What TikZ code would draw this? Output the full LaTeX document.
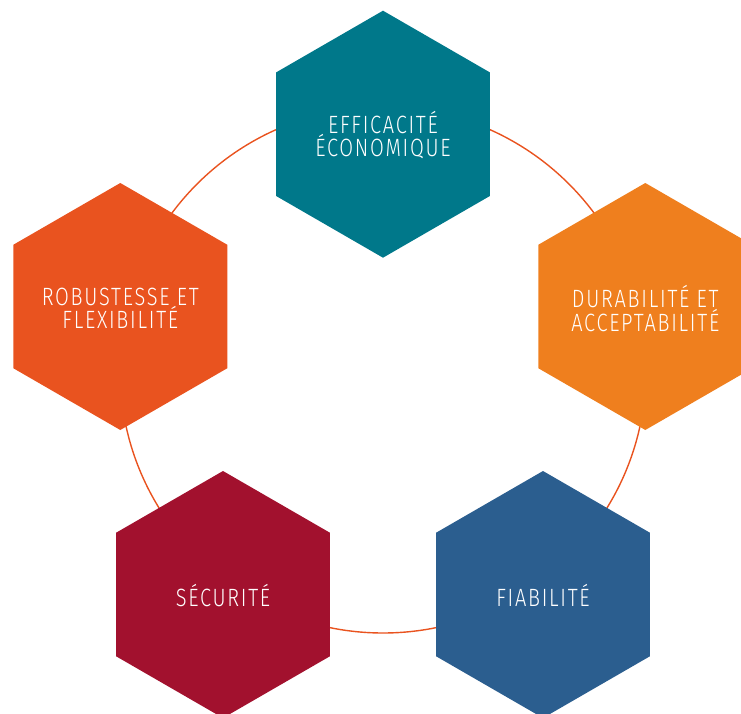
\documentclass[tikz,border=0pt]{standalone}
\usepackage{fontspec}
\setmainfont{Fira Sans}[UprightFont={* Light}, FakeStretch=0.8, LetterSpace=7]
\usetikzlibrary{shapes.geometric}
\definecolor{cteal}{HTML}{00788A}
\definecolor{corange}{HTML}{EF7F1E}
\definecolor{cred}{HTML}{E9531F}
\definecolor{ccrimson}{HTML}{A2112E}
\definecolor{cblue}{HTML}{2B5E8F}
\tikzset{
  hexa/.style={regular polygon, regular polygon sides=6, regular polygon rotate=30,
    minimum size=247pt, inner sep=0pt, outer sep=0pt, draw=none},
  lbl/.style={text=white, align=center, font=\fontsize{25}{21.5}\selectfont, inner sep=0pt},
  ring/.style={draw=cred, line width=1.4pt}
}
\begin{document}
\begin{tikzpicture}[x=1pt,y=-1pt]
\useasboundingbox (0,0) rectangle (741,714);
\clip (0,0) rectangle (741,714);
\coordinate (c) at (383,370);
\draw[ring] (c) circle[radius=263];
\node[hexa, fill=cteal]    (h1) at (383,134.2) {};
\node[hexa, fill=corange]  (h2) at (645.3,306.5) {};
\node[hexa, fill=cred]     (h3) at (120.3,306.5) {};
\node[hexa, fill=ccrimson] (h4) at (223,594.5) {};
\node[hexa, fill=cblue]    (h5) at (543,594.5) {};
\node[lbl] (t1) at ([yshift=-1]h1.center) {EFFICACITÉ\\ÉCONOMIQUE};
\node[lbl] (t2) at ([yshift=-2]h2.center) {DURABILITÉ ET\\ACCEPTABILITÉ};
\node[lbl] (t3) at ([yshift=-2]h3.center) {ROBUSTESSE ET\\FLEXIBILITÉ};
\node[lbl] (t4) at ([yshift=-1]h4.center) {SÉCURITÉ};
\node[lbl] (t5) at ([yshift=-1]h5.center) {FIABILITÉ};
\end{tikzpicture}
\end{document}
